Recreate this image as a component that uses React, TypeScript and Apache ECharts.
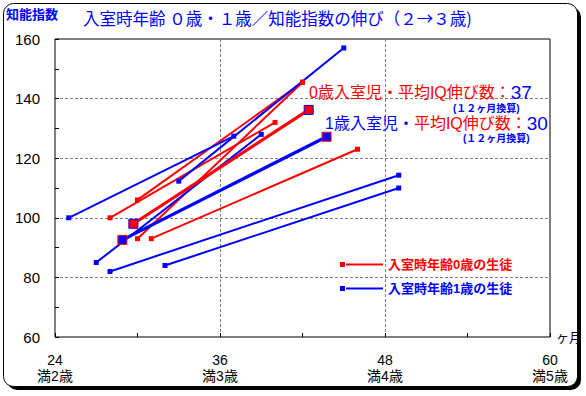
import React, { useEffect, useRef } from 'react';
import * as echarts from 'echarts';

const RED = '#ff0000';
const BLUE = '#0000ff';
const GRID_GRAY = '#808080';
const FONT = "'Liberation Sans', 'Noto Sans CJK JP', sans-serif";
const CJK = "'Noto Sans CJK JP', sans-serif";

const titleText = '入室時年齢 ０歳・１歳／知能指数の伸び（２→３歳)';
const yAxisTitle = '知能指数';
const xUnit = 'ヶ月';

const xTickValues = [24, 36, 48, 60];
const xTickAges = ['満2歳', '満3歳', '満4歳', '満5歳'];

const seriesName0 = '入室時年齢0歳の生徒';
const seriesName1 = '入室時年齢1歳の生徒';

// 入室時年齢0歳: [month, IQ] start -> end
const age0Start = [[28, 100], [30, 106], [30, 93], [31, 93]];
const age0End = [[40, 132], [42, 145.5], [42, 145.5], [46, 123]];
const age0AvgStart = [29.7, 98];
const age0AvgEnd = [42.45, 136.2];

// 入室時年齢1歳
const age1Start = [[25, 100], [27, 85], [33, 112.3], [28, 82], [32, 84]];
const age1End = [[37, 127.4], [39, 128], [45, 157], [49, 114.3], [49, 110]];
const age1AvgStart = [28.9, 92.6];
const age1AvgEnd = [43.75, 127.2];

const avgGain0 = '37';
const avgGain1 = '30';
const convNote = '(１２ヶ月換算)';

function segSeries(name: string, starts: number[][], ends: number[][], color: string) {
  return starts.map((s, i) => ({
    type: 'line',
    name,
    data: [s, ends[i]],
    symbol: 'rect',
    symbolSize: 5,
    showSymbol: true,
    lineStyle: { color, width: 2 },
    itemStyle: { color },
    z: 2,
    silent: true,
  }));
}

function avgSeries(start: number[], end: number[], color: string, border: string) {
  return {
    type: 'line',
    name: 'avg-' + color,
    data: [start, end],
    symbol: 'rect',
    symbolSize: 9,
    lineStyle: { color, width: 3.2 },
    itemStyle: { color, borderColor: border, borderWidth: 1 },
    z: 4,
    silent: true,
  };
}

export default function App() {
  const ref = useRef<HTMLDivElement>(null);
  useEffect(() => {
    if (!ref.current) return;
    const chart = echarts.init(ref.current, undefined, { renderer: 'svg' });
    const dashed = { color: GRID_GRAY, type: [3, 2], width: 1 };
    const option: any = {
      animation: false,
      backgroundColor: '#ffffff',
      textStyle: { fontFamily: FONT },
      title: [
        {
          text: titleText,
          left: 83,
          top: 10,
          padding: 0,
          textStyle: { color: BLUE, fontSize: 16.5, fontWeight: 'normal', fontFamily: CJK },
        },
        {
          text: yAxisTitle,
          left: 6,
          top: 8,
          padding: 0,
          textStyle: { color: BLUE, fontSize: 13, fontWeight: 'bold', fontFamily: FONT },
        },
      ],
      grid: {
        left: 55,
        top: 39,
        right: 36,
        bottom: 59,
        show: true,
        borderColor: '#000',
        borderWidth: 1,
        backgroundColor: '#fff',
      },
      legend: {
        orient: 'vertical',
        left: 340,
        top: 258,
        itemWidth: 43,
        itemHeight: 5,
        itemGap: 11,
        padding: 0,
        selectedMode: false,
        icon: 'path://M0,0H5V5H0Z M6,1.5H43V3.5H6Z',
        textStyle: { fontSize: 13, fontWeight: 'bold', fontFamily: FONT },
        data: [
          { name: seriesName0, textStyle: { color: RED } },
          { name: seriesName1, textStyle: { color: BLUE } },
        ],
      },
      xAxis: [
        {
          type: 'value',
          min: 24,
          max: 60,
          interval: 12,
          position: 'bottom',
          name: xUnit,
          nameLocation: 'end',
          nameGap: 6,
          nameTextStyle: { color: '#000', fontSize: 13, verticalAlign: 'middle', padding: [6, 0, 0, 0] },
          axisLine: { show: false },
          axisTick: { show: false },
          splitLine: { show: true, showMinLine: false, showMaxLine: false, lineStyle: dashed },
          axisLabel: {
            color: '#000',
            fontSize: 14,
            lineHeight: 16,
            margin: 15,
            formatter: (v: number) => {
              const i = xTickValues.indexOf(v);
              return i < 0 ? '' : `${v}\n${xTickAges[i]}`;
            },
          },
        },
        {
          type: 'value',
          min: 24,
          max: 60,
          interval: 6,
          position: 'bottom',
          axisLine: { show: false },
          axisTick: { show: true, inside: true, length: 4, lineStyle: { color: '#000', width: 1 } },
          splitLine: { show: false },
          axisLabel: { show: false },
        },
      ],
      yAxis: [
        {
          type: 'value',
          min: 60,
          max: 160,
          interval: 20,
          position: 'left',
          axisLine: { show: false },
          axisTick: { show: false },
          splitLine: { show: true, showMinLine: false, showMaxLine: false, lineStyle: dashed },
          axisLabel: { color: '#000', fontSize: 15, margin: 15 },
        },
        {
          type: 'value',
          min: 60,
          max: 160,
          interval: 10,
          position: 'left',
          axisLine: { show: false },
          axisTick: { show: true, inside: true, length: 4, lineStyle: { color: '#000', width: 1 } },
          splitLine: { show: false },
          axisLabel: { show: false },
        },
      ],
      series: [
        ...segSeries(seriesName0, age0Start, age0End, RED),
        ...segSeries(seriesName1, age1Start, age1End, BLUE),
        avgSeries(age0AvgStart, age0AvgEnd, RED, BLUE),
        avgSeries(age1AvgStart, age1AvgEnd, BLUE, RED),
      ],
      graphic: [
        {
          type: 'rect',
          z: -10,
          shape: { x: 7, y: 7, width: 574, height: 383, r: 10 },
          style: { fill: '#000' },
          silent: true,
        },
        {
          type: 'rect',
          z: -9,
          shape: { x: 3.5, y: 3.5, width: 574, height: 383, r: 10 },
          style: { fill: '#fff', stroke: '#000', lineWidth: 1 },
          silent: true,
        },
        {
          type: 'text',
          x: 309,
          y: 92,
          z: 10,
          style: {
            text: `{r|0歳入室児・平均IQ伸び数：}{b|${avgGain0}}`,
            verticalAlign: 'middle',
            rich: {
              r: { fill: RED, fontSize: 16, fontFamily: FONT },
              b: { fill: BLUE, fontSize: 19, fontFamily: FONT },
            },
          },
        },
        {
          type: 'text',
          x: 453,
          y: 108,
          z: 10,
          style: {
            text: convNote,
            fill: BLUE,
            fontSize: 10,
            fontWeight: 'bold',
            fontFamily: FONT,
            verticalAlign: 'middle',
          },
        },
        {
          type: 'text',
          x: 325,
          y: 123,
          z: 10,
          style: {
            text: `{b1|1歳入室児・}{r|平均IQ伸び数：}{b|${avgGain1}}`,
            verticalAlign: 'middle',
            rich: {
              b1: { fill: BLUE, fontSize: 16, fontFamily: FONT },
              r: { fill: RED, fontSize: 16, fontFamily: FONT },
              b: { fill: BLUE, fontSize: 19, fontFamily: FONT },
            },
          },
        },
        {
          type: 'text',
          x: 463,
          y: 138,
          z: 10,
          style: {
            text: convNote,
            fill: BLUE,
            fontSize: 10,
            fontWeight: 'bold',
            fontFamily: FONT,
            verticalAlign: 'middle',
          },
        },
      ],
    };
    chart.setOption(option);
    return () => chart.dispose();
  }, []);
  return (
    <div
      ref={ref}
      style={{ position: 'fixed', left: 0, top: 0, width: 586, height: 396 }}
    />
  );
}
